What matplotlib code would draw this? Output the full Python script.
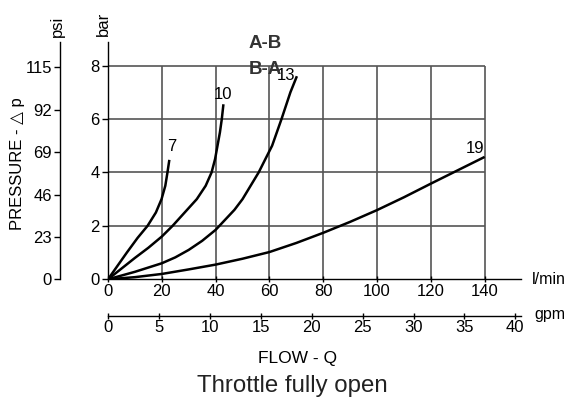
import matplotlib
matplotlib.use("Agg")
import matplotlib.pyplot as plt

plt.rcParams['font.family'] = ['Liberation Sans', 'DejaVu Sans']

# curves: flow (l/min) vs pressure drop (bar)
q7 = [0, 3.5, 7, 11, 14.7, 17.8, 19.9, 21.3, 22.1, 22.8]
p7 = [0, 0.5, 1, 1.55, 2, 2.5, 3, 3.5, 4, 4.47]
q10 = [0, 5, 10, 15, 20, 24, 28.5, 33, 36.3, 38.5, 39.8, 40.7, 41.6, 42.3, 42.9]
p10 = [0, 0.4, 0.8, 1.18, 1.6, 2, 2.5, 3, 3.5, 4, 4.5, 5, 5.5, 6, 6.55]
q13 = [0, 10, 20, 25, 30, 35, 40, 47, 50, 56, 61, 64.5, 67.8, 70.2]
p13 = [0, 0.28, 0.6, 0.82, 1.1, 1.44, 1.85, 2.6, 3, 4, 5, 6, 7, 7.6]
q19 = [0, 10, 20, 30, 40, 50, 60, 70, 80, 90, 100, 110, 120, 130, 140]
p19 = [0, 0.08, 0.2, 0.37, 0.55, 0.77, 1.02, 1.36, 1.74, 2.15, 2.59, 3.07, 3.58, 4.08, 4.58]
curve_names = ['7', '10', '13', '19']

lpm_ticks = [0, 20, 40, 60, 80, 100, 120, 140]
bar_ticks = [0, 2, 4, 6, 8]
psi_ticks = [0, 23, 46, 69, 92, 115]
gpm_ticks = [0, 5, 10, 15, 20, 25, 30, 35, 40]

W, H = 568, 405
fig = plt.figure(figsize=(W / 100, H / 100), dpi=100)

def fx(x):
    return x / W

def fy(y):
    return 1 - y / H

ax = fig.add_axes([fx(108), fy(279.3), (521 - 108) / W, (279.3 - 42) / H])
ax.set_xlim(0, 153.5)
ax.set_ylim(0, 8.88)

# grid only inside the 0..140 x 0..8 box
ax.vlines(lpm_ticks[1:], 0, bar_ticks[-1], color='#555555', lw=1.2, zorder=1)
ax.hlines(bar_ticks[1:], 0, lpm_ticks[-1], color='#555555', lw=1.2, zorder=1)

offsets = [(2, 13), (0, 10), (-11, 1), (-10, 8)]
for (q, p), name, off in zip([(q7, p7), (q10, p10), (q13, p13), (q19, p19)], curve_names, offsets):
    ax.plot(q, p, color='black', lw=1.8, solid_capstyle='butt', solid_joinstyle='round', zorder=3)
    ax.annotate(name, xy=(q[-1], p[-1]), xytext=off, textcoords='offset pixels',
                ha='center', va='center', fontsize=12)

for s in ['top', 'right']:
    ax.spines[s].set_visible(False)
ax.spines['left'].set_linewidth(1.0)
ax.spines['bottom'].set_linewidth(1.0)

ax.set_xticks(lpm_ticks)
ax.set_yticks(bar_ticks)
ax.tick_params(axis='x', direction='inout', length=5, width=1, labelsize=12, pad=1)
ax.tick_params(axis='y', direction='out', length=4, width=1, labelsize=12, pad=2)

# psi axis on the left
psi = ax.secondary_yaxis(-0.116, functions=(lambda b: b * 14.5, lambda p: p / 14.5))
psi.set_yticks(psi_ticks)
psi.tick_params(direction='out', length=4, width=1, labelsize=12, pad=2)
psi.spines['left'].set_linewidth(1.0)

# gpm axis below
gpm = ax.secondary_xaxis(-0.155, functions=(lambda l: l / 3.785, lambda g: g * 3.785))
gpm.set_xticks(gpm_ticks)
gpm.tick_params(direction='inout', length=5, width=1, labelsize=12, pad=0)
gpm.spines['bottom'].set_linewidth(1.0)

fig.text(fx(57), fy(26), 'psi', rotation=90, ha='center', va='center', fontsize=12)
fig.text(fx(103), fy(24), 'bar', rotation=90, ha='center', va='center', fontsize=12)
fig.text(fx(18), fy(164), 'PRESSURE - \u25b3 p', rotation=90, ha='center', va='center', fontsize=12)
fig.text(fx(532), fy(279), 'l/min', ha='left', va='center', fontsize=11.5)
fig.text(fx(534), fy(314), 'gpm', ha='left', va='center', fontsize=11.5)
fig.text(fx(298), fy(358), 'FLOW - Q', ha='center', va='center', fontsize=12.5)
fig.text(fx(292), fy(392), 'Throttle fully open', ha='center', va='baseline', fontsize=17.3,
         color='#222222')
fig.text(fx(265), fy(44), 'A-B', ha='center', va='center', fontsize=13.5, fontweight='bold',
         color='#333333')
fig.text(fx(265), fy(70), 'B-A', ha='center', va='center', fontsize=13.5, fontweight='bold',
         color='#333333')

fig.savefig('out.png', dpi=100)
